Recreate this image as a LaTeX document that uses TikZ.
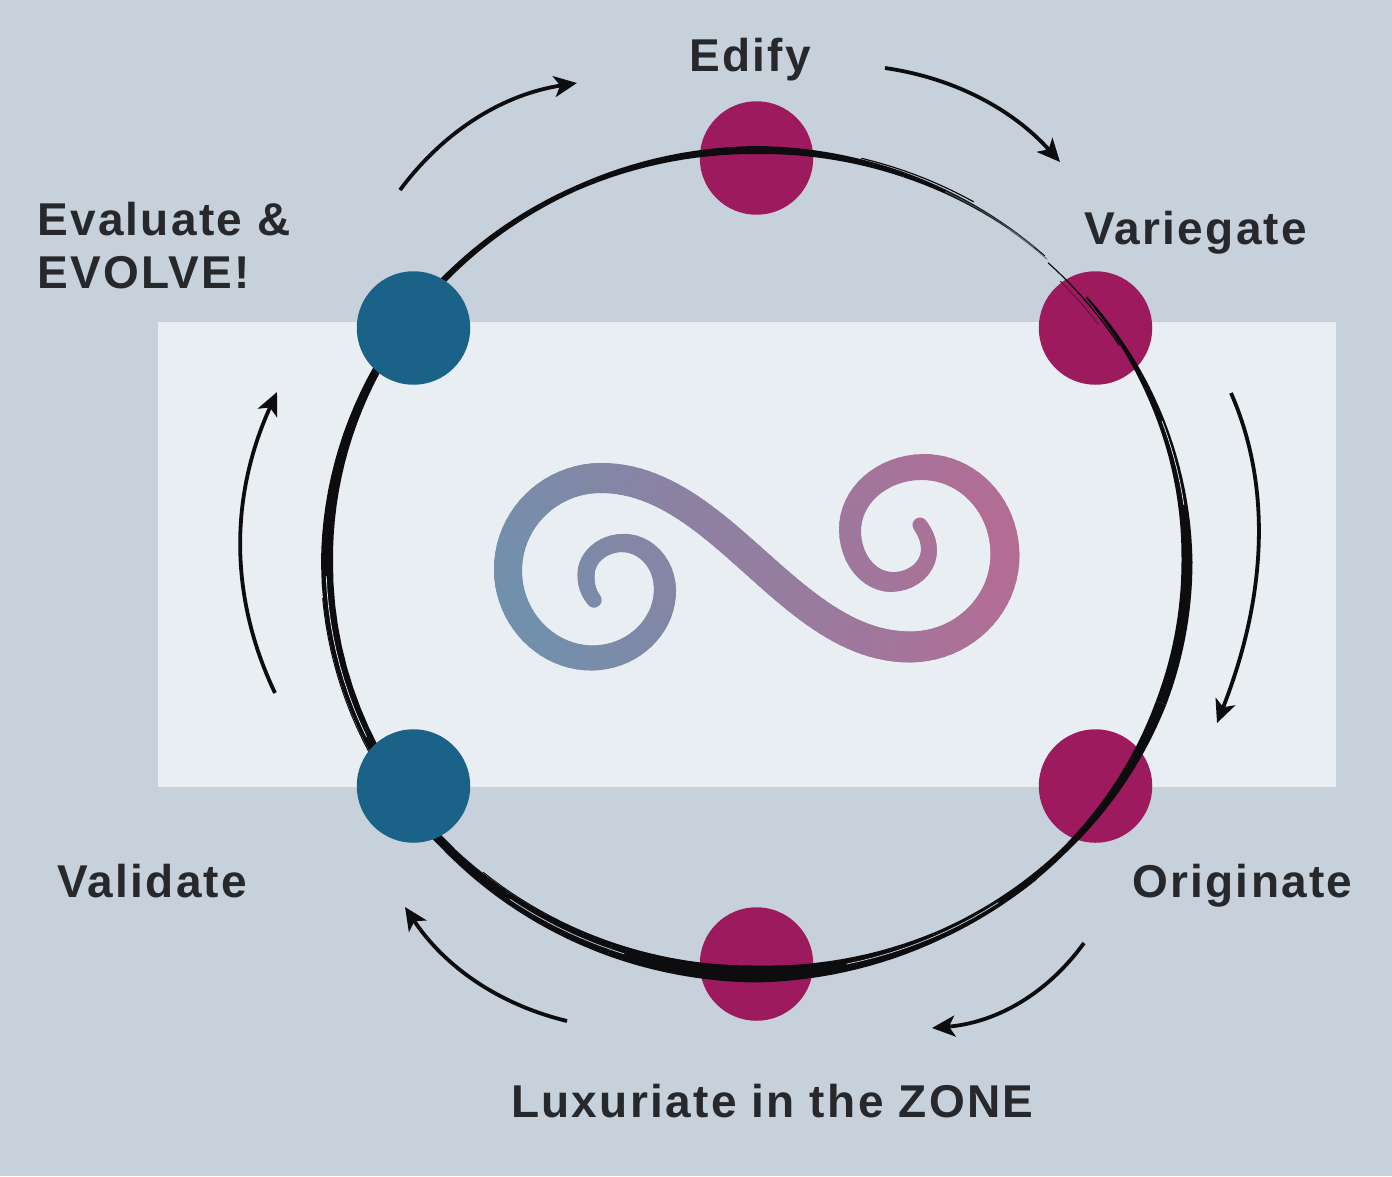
\documentclass[tikz,border=0pt]{standalone}
\usepackage{fontspec}
\setmainfont{Liberation Sans}[LetterSpace=5]
\usetikzlibrary{arrows.meta,calc}
\definecolor{pagebg}{HTML}{C6D1DB}
\definecolor{panelbg}{HTML}{E9EEF2}
\definecolor{dotmag}{HTML}{9E1A5F}
\definecolor{dotblue}{HTML}{1A6288}
\definecolor{spL}{HTML}{6C93AE}
\definecolor{spR}{HTML}{B86A93}
\definecolor{ink}{HTML}{0D0D0F}
\definecolor{labelink}{HTML}{26282C}
\tikzset{
  dot/.style={circle,minimum size=113.5pt,inner sep=0pt,fill=#1},
  flow/.style={line width=3.8pt,draw=ink,-{Stealth[length=23pt,width=21pt,inset=6pt]}},
  lab/.style={font=\fontsize{46}{53}\selectfont\bfseries,text=labelink,inner sep=0pt,anchor=base west,align=left},
  streak/.style={draw=#1,line cap=round}
}
\newcommand{\flowarc}[3]{\draw[flow] (#1) .. controls ($(#1)!0.667!(#2)$) and ($(#3)!0.667!(#2)$) .. (#3);}
\begin{document}
\begin{tikzpicture}[x=1pt,y=-1pt]
\useasboundingbox (0,0) rectangle (1392,1176);
\fill[pagebg] (0,0) rectangle (1392,1176);
\fill[panelbg] (158,322) rectangle (1336,787);
% magenta dots lie under the ring
\node[dot=dotmag] (edify) at (756.5,158) {};
\node[dot=dotmag] (variegate) at (1095.5,328) {};
\node[dot=dotmag] (originate) at (1095.5,786) {};
\node[dot=dotmag] (luxuriate) at (756.5,964) {};
% brush ring: width follows the angle
\foreach \ta/\tb/\wa/\wb in {
  40/25/2/6, 25/0/6/11, 0/-20/11/11, -20/-45/11/6, -45/-65/6/9, -65/-90/9/17,
  -90/-110/17/14, -110/-135/14/9, -135/-180/9/12, -180/-210/12/8, -210/-225/8/6,
  -225/-245/6/5, -245/-270/5/8, -270/-290/8/5, -290/-312/5/1}{
  \fill[ink] plot[domain=\ta:\tb,samples=16]
    ({757+(430+(\wa+(\wb-\wa)*(\x-\ta)/(\tb-\ta))/2)*cos(\x)},{562-(412+(\wa+(\wb-\wa)*(\x-\ta)/(\tb-\ta))/2)*sin(\x)})
    -- plot[domain=\tb:\ta,samples=16]
    ({757+(430-(\wa+(\wb-\wa)*(\x-\ta)/(\tb-\ta))/2)*cos(\x)},{562-(412-(\wa+(\wb-\wa)*(\x-\ta)/(\tb-\ta))/2)*sin(\x)})
    -- cycle;
}
% dry-brush strands
\draw[streak=ink,line width=1.2pt] plot[domain=32:47,samples=12] ({757+427*cos(\x)},{562-409*sin(\x)});
\draw[streak=dotmag!60!ink,line width=1pt] plot[domain=36:44,samples=8] ({757+422*cos(\x)},{562-404*sin(\x)});
\draw[streak=ink!70!pagebg,line width=1.2pt] plot[domain=50:64,samples=12] ({757+430*cos(\x)},{562-412*sin(\x)});
\draw[streak=ink!50!pagebg,line width=1pt] plot[domain=47.5:54,samples=8] ({757+429*cos(\x)},{562-411*sin(\x)});
\draw[streak=ink,line width=1.2pt] plot[domain=60:76,samples=12] ({757+433*cos(\x)},{562-416*sin(\x)});
\draw[streak=ink,line width=1pt] plot[domain=-85:-50,samples=20] ({757+435*cos(\x)},{562-414*sin(\x)});
\draw[streak=ink,line width=1pt] plot[domain=-130:-100,samples=20] ({757+426*cos(\x)},{562-405*sin(\x)});
\draw[streak=ink,line width=1pt] plot[domain=-175:-140,samples=20] ({757+436*cos(\x)},{562-417*sin(\x)});
\draw[streak=pagebg,line width=0.7pt] plot[domain=-125:-108,samples=12] ({757+430*cos(\x)},{562-412*sin(\x)});
\draw[streak=pagebg,line width=0.7pt] plot[domain=-78:-56,samples=12] ({757+431*cos(\x)},{562-411*sin(\x)});
\draw[streak=panelbg,line width=0.7pt] plot[domain=-178:-155,samples=12] ({757+431*cos(\x)},{562-413*sin(\x)});
\draw[streak=panelbg,line width=0.7pt] plot[domain=8:20,samples=10] ({757+431*cos(\x)},{562-412*sin(\x)});
% blue dots lie over the ring
\node[dot=dotblue] (evaluate) at (413.5,328) {};
\node[dot=dotblue] (validate) at (413.5,786) {};
% spiral: short strokes along cubic pieces, colour and width changing along them
\foreach \ax/\ay/\bx/\by/\cx/\cy/\dx/\dy/\wa/\wb/\n in {
  594/600/588/592/586/585/586/575/15/17/6,
  586/575/586/557/603/543/623/543/17/18/12,
  623/543/646/543/665/564/665/590/18/22/12,
  665/590/665/627/632/658/592/658/22/25/18,
  592/658/546/658/508/618/508/570/25/28/20,
  508/570/508/519/550/478/601/478/28/30/20,
  601/478/721/478/790/647/910/647/30/31/48,
  910/647/962/647/1005/606/1005/555/31/29/20,
  1005/555/1005/506/968/467/923/467/29/26/20,
  923/467/883/467/850/495/850/530/26/22/16,
  850/530/850/559/869/582/892/582/22/20/12,
  892/582/912/582/929/568/929/550/20/16/10,
  929/550/929/540/925/532/920/525/16/15/6}{
  \foreach \k in {1,...,\n}{
    \pgfmathsetmacro\tp{(\k-1)/\n}\pgfmathsetmacro\tq{\k/\n}
    \pgfmathsetmacro\up{1-\tp}\pgfmathsetmacro\uq{1-\tq}
    \pgfmathsetmacro\xp{\up*\up*\up*\ax+3*\up*\up*\tp*\bx+3*\up*\tp*\tp*\cx+\tp*\tp*\tp*\dx}
    \pgfmathsetmacro\yp{\up*\up*\up*\ay+3*\up*\up*\tp*\by+3*\up*\tp*\tp*\cy+\tp*\tp*\tp*\dy}
    \pgfmathsetmacro\xq{\uq*\uq*\uq*\ax+3*\uq*\uq*\tq*\bx+3*\uq*\tq*\tq*\cx+\tq*\tq*\tq*\dx}
    \pgfmathsetmacro\yq{\uq*\uq*\uq*\ay+3*\uq*\uq*\tq*\by+3*\uq*\tq*\tq*\cy+\tq*\tq*\tq*\dy}
    \pgfmathsetmacro\mixv{max(0,min(100,(((\xq-495)+0.3*(670-\yq))/587)*100))}
    \pgfmathsetmacro\wv{\wa+(\wb-\wa)*\tq}
    \draw[draw=spR!\mixv!spL,line width=\wv pt,line cap=round] (\xp,\yp) -- (\xq,\yq);
  }
}
% flow arrows
\coordinate (a1s) at (400,190); \coordinate (a1q) at (467,100); \coordinate (a1e) at (577,83);
\coordinate (a2s) at (885,68);  \coordinate (a2q) at (989,83);  \coordinate (a2e) at (1060,162);
\coordinate (a3s) at (1231,393); \coordinate (a3q) at (1292,532); \coordinate (a3e) at (1217,723);
\coordinate (a4s) at (1084,943); \coordinate (a4q) at (1028,1020); \coordinate (a4e) at (932,1028);
\coordinate (a5s) at (567,1021); \coordinate (a5q) at (464,996); \coordinate (a5e) at (405,907);
\coordinate (a6s) at (275,693);  \coordinate (a6q) at (206,548); \coordinate (a6e) at (277,392);
\flowarc{a1s}{a1q}{a1e}
\flowarc{a2s}{a2q}{a2e}
\flowarc{a3s}{a3q}{a3e}
\flowarc{a4s}{a4q}{a4e}
\flowarc{a5s}{a5q}{a5e}
\flowarc{a6s}{a6q}{a6e}
% labels
\node[lab] (tedify) at (689,71) {Edify};
\node[lab] (tvariegate) at (1084,244) {Variegate};
\node[lab] (tevaluate) at (37,288) {Evaluate \&\\EVOLVE!};
\node[lab] (tvalidate) at (57,897) {Validate};
\node[lab] (toriginate) at (1132,897) {Originate};
\node[lab] (tluxuriate) at (511,1117) {Luxuriate in the ZONE};
\end{tikzpicture}
\end{document}
